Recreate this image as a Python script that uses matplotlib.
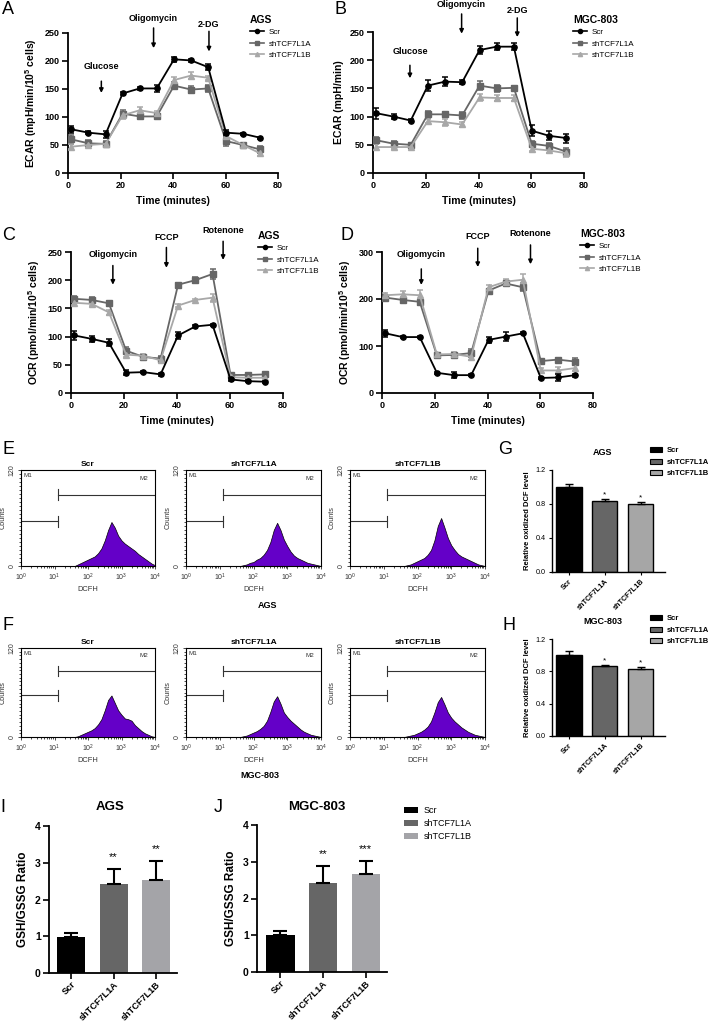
import matplotlib.pyplot as plt
import numpy as np
from matplotlib.lines import Line2D
from matplotlib.patches import Patch
from matplotlib.ticker import MultipleLocator, LogLocator, NullFormatter

plt.rcParams['font.family'] = ['Liberation Sans', 'DejaVu Sans']
plt.rcParams['mathtext.fontset'] = 'custom'
plt.rcParams['mathtext.rm'] = 'Liberation Sans'
plt.rcParams['mathtext.bf'] = 'Liberation Sans:bold'

W, H = 713, 1027

groups = ['Scr', 'shTCF7L1A', 'shTCF7L1B']
line_colors = ['black', '#666666', '#a8a8a8']
markers = ['o', 's', '^']

# Seahorse measurement times (minutes)
t_min = [1.3, 7.8, 14.3, 20.8, 27.3, 33.8, 40.4, 46.9, 53.4, 60.2, 66.7, 73.2]

# A: ECAR, AGS
ecar_ags_scr = [78, 72, 69, 142, 151, 151, 203, 201, 189, 72, 70, 63]
ecar_ags_scr_err = [6, 3, 6, 3, 2, 6, 5, 2, 5, 5, 2, 2]
ecar_ags_a = [60, 53, 52, 106, 101, 101, 156, 149, 151, 57, 50, 42]
ecar_ags_a_err = [8, 6, 6, 6, 4, 4, 6, 6, 6, 8, 3, 6]
ecar_ags_b = [47, 50, 52, 103, 112, 107, 166, 174, 170, 66, 50, 35]
ecar_ags_b_err = [5, 4, 4, 6, 6, 4, 6, 6, 4, 4, 3, 4]

# B: ECAR, MGC-803
ecar_mgc_scr = [106, 100, 93, 155, 162, 161, 218, 224, 224, 75, 66, 62]
ecar_mgc_scr_err = [10, 5, 2, 10, 8, 4, 7, 6, 6, 10, 8, 8]
ecar_mgc_a = [58, 52, 50, 104, 104, 102, 155, 150, 151, 52, 48, 38]
ecar_mgc_a_err = [6, 4, 3, 6, 5, 6, 8, 6, 4, 5, 5, 6]
ecar_mgc_b = [46, 46, 46, 92, 90, 86, 134, 133, 133, 43, 40, 35]
ecar_mgc_b_err = [6, 4, 3, 4, 6, 5, 6, 6, 6, 4, 4, 6]

# C: OCR, AGS
ocr_ags_scr = [102, 96, 89, 36, 37, 33, 102, 118, 121, 24, 21, 20]
ocr_ags_scr_err = [8, 5, 6, 4, 2, 2, 7, 2, 2, 2, 2, 2]
ocr_ags_a = [167, 165, 159, 75, 64, 61, 192, 200, 211, 32, 32, 33]
ocr_ags_a_err = [5, 5, 4, 6, 3, 4, 3, 5, 8, 3, 3, 3]
ocr_ags_b = [160, 158, 143, 68, 66, 58, 155, 165, 169, 28, 27, 27]
ocr_ags_b_err = [4, 4, 4, 5, 4, 4, 3, 2, 7, 2, 2, 2]

# D: OCR, MGC-803
ocr_mgc_scr = [127, 119, 119, 43, 38, 38, 113, 120, 127, 32, 33, 38]
ocr_mgc_scr_err = [7, 2, 2, 2, 6, 2, 7, 9, 2, 3, 8, 3]
ocr_mgc_a = [203, 198, 194, 80, 81, 85, 218, 233, 225, 68, 71, 67]
ocr_mgc_a_err = [5, 5, 7, 4, 4, 8, 4, 6, 9, 4, 4, 8]
ocr_mgc_b = [208, 210, 208, 82, 83, 77, 225, 237, 241, 48, 48, 53]
ocr_mgc_b_err = [5, 6, 12, 4, 4, 6, 4, 6, 13, 6, 8, 6]

# injections: (label, time, arrow top, arrow bottom, label y)
inj_a = [('Glucose', 12.7, 164, 143, 190), ('Oligomycin', 32.6, 259, 223, 276), ('2-DG', 53.7, 253, 217, 265)]
inj_b = [('Glucose', 14.0, 191, 168, 216), ('Oligomycin', 33.6, 282, 247, 299), ('2-DG', 54.7, 275, 241, 288)]
inj_c = [('Oligomycin', 15.8, 226, 192, 245), ('FCCP', 36.0, 258, 222, 276), ('Rotenone', 57.4, 269, 236, 289)]
inj_d = [('Oligomycin', 14.9, 264, 230, 294), ('FCCP', 36.3, 308, 268, 332), ('Rotenone', 56.3, 315, 274, 340)]

# flow cytometry histograms (log10 DCFH bin centres, counts)
hist_dec = [1.6, 1.7, 1.8, 1.9, 2.0, 2.1, 2.2, 2.3, 2.4, 2.5, 2.6, 2.7, 2.8,
            2.9, 3.0, 3.1, 3.2, 3.3, 3.4, 3.5, 3.6, 3.7, 3.8, 3.9, 4.0]
hist_e_scr = [0, 2, 4, 6, 8, 10, 12, 16, 22, 32, 45, 55, 48, 38, 32, 28, 25, 22, 19, 15, 12, 9, 6, 3, 1]
hist_e_a = [0, 1, 2, 4, 5, 8, 10, 14, 20, 30, 45, 54, 45, 33, 25, 18, 13, 10, 8, 6, 4, 3, 2, 1, 0]
hist_e_b = [0, 1, 2, 4, 6, 8, 10, 14, 20, 32, 50, 60, 48, 35, 26, 20, 15, 12, 10, 8, 6, 4, 2, 1, 0]
hist_f_scr = [0, 1, 3, 5, 7, 9, 12, 17, 24, 36, 50, 56, 46, 36, 30, 25, 24, 22, 16, 12, 8, 5, 3, 1, 0]
hist_f_a = [0, 1, 2, 4, 6, 8, 11, 15, 22, 34, 48, 55, 45, 33, 27, 22, 18, 14, 10, 7, 5, 3, 2, 1, 0]
hist_f_b = [0, 1, 2, 3, 5, 7, 10, 14, 21, 33, 47, 54, 44, 33, 26, 21, 17, 13, 10, 7, 5, 3, 2, 1, 0]

# G/H: relative oxidized DCF level
dcf_ags = [1.0, 0.84, 0.80]
dcf_ags_err = [0.03, 0.02, 0.02]
dcf_mgc = [1.0, 0.86, 0.83]
dcf_mgc_err = [0.05, 0.02, 0.02]
dcf_stars = ['', '*', '*']

# I/J: GSH/GSSG ratio
gsh_ags = [0.98, 2.42, 2.54]
gsh_ags_err = [0.12, 0.40, 0.50]
gsh_ags_stars = ['', '**', '**']
gsh_mgc = [1.0, 2.42, 2.68]
gsh_mgc_err = [0.12, 0.47, 0.33]
gsh_mgc_stars = ['', '**', '***']


def box(l, t, r, b):
    return [l / W, 1 - b / H, (r - l) / W, (b - t) / H]


def fx(x):
    return x / W


def fy(y):
    return 1 - y / H


fig = plt.figure(figsize=(W / 100, H / 100), dpi=100)


def bold_ticks(ax):
    for lab in ax.get_xticklabels() + ax.get_yticklabels():
        lab.set_fontweight('bold')


def seahorse(ax, series, ymax, ystep, ylabel, cell, inj, leg_xy):
    for (vals, errs), c, m in zip(series, line_colors, markers):
        ax.errorbar(t_min, vals, yerr=errs, color=c, marker=m, ms=3.8, lw=1.3,
                    capsize=2, elinewidth=1.1, capthick=1.1,
                    zorder=4 if c == 'black' else 3)
    ax.set_xlim(0, 80)
    ax.set_ylim(0, ymax)
    ax.set_xticks([0, 20, 40, 60, 80])
    ax.set_yticks(np.arange(0, ymax + 1, ystep))
    for s in ['top', 'right']:
        ax.spines[s].set_visible(False)
    for s in ['left', 'bottom']:
        ax.spines[s].set_linewidth(1.3)
    ax.tick_params(direction='out', length=4, width=1.2, labelsize=6.5, pad=2)
    bold_ticks(ax)
    ax.set_xlabel('Time (minutes)', fontsize=7.5, fontweight='bold', labelpad=4)
    ax.set_ylabel(ylabel, fontsize=7.5, fontweight='bold', labelpad=4)
    for lab, x, y0, y1, ylab in inj:
        ax.annotate('', xy=(x, y1), xytext=(x, y0),
                    arrowprops=dict(arrowstyle='-|>', lw=1.1, color='black',
                                    mutation_scale=6, shrinkA=0, shrinkB=0),
                    annotation_clip=False)
        ax.text(x, ylab, lab, ha='center', va='center', fontsize=6.5,
                fontweight='bold', clip_on=False)
    handles = [Line2D([], [], color=c, marker=m, ms=3, lw=1.2)
               for c, m in zip(line_colors, markers)]
    ax.legend(handles, groups, title=cell, loc='upper left',
              bbox_to_anchor=(fx(leg_xy[0]), fy(leg_xy[1])),
              bbox_transform=fig.transFigure, frameon=False, fontsize=5.8,
              title_fontproperties={'weight': 'bold', 'size': 7.5},
              alignment='left', handlelength=1.7, labelspacing=0.45,
              borderaxespad=0, borderpad=0, handletextpad=0.6)


ecar_label = r'ECAR (mpH/min/10$^{\mathbf{5}}$ cells)'
ocr_label = r'OCR (pmol/min/10$^{\mathbf{5}}$ cells)'

axA = fig.add_axes(box(68, 33, 278, 173))
seahorse(axA, [(ecar_ags_scr, ecar_ags_scr_err), (ecar_ags_a, ecar_ags_a_err),
               (ecar_ags_b, ecar_ags_b_err)], 250, 50,
         ecar_label, 'AGS', inj_a, (250, 15))
axB = fig.add_axes(box(373, 32, 584, 173))
seahorse(axB, [(ecar_mgc_scr, ecar_mgc_scr_err), (ecar_mgc_a, ecar_mgc_a_err),
               (ecar_mgc_b, ecar_mgc_b_err)], 250, 50,
         'ECAR (mpH/min)', 'MGC-803', inj_b, (573, 15))
axC = fig.add_axes(box(71, 252, 283, 393))
seahorse(axC, [(ocr_ags_scr, ocr_ags_scr_err), (ocr_ags_a, ocr_ags_a_err),
               (ocr_ags_b, ocr_ags_b_err)], 250, 50,
         ocr_label, 'AGS', inj_c, (258, 231))
axD = fig.add_axes(box(382, 252, 593, 393))
seahorse(axD, [(ocr_mgc_scr, ocr_mgc_scr_err), (ocr_mgc_a, ocr_mgc_a_err),
               (ocr_mgc_b, ocr_mgc_b_err)], 300, 100,
         ocr_label, 'MGC-803', inj_d, (580, 229))


def flow(ax, counts, title):
    xs = [10 ** d for d in hist_dec]
    ax.fill_between(xs, counts, facecolor='#6400c8',
                    edgecolor='black', lw=0.5)
    ax.set_xscale('log')
    ax.set_xlim(1, 1e4)
    ax.set_ylim(0, 120)
    ax.set_yticks([0, 120])
    ax.set_yticklabels(['0', '120'], rotation=90, va='center')
    ax.yaxis.set_minor_locator(MultipleLocator(5))
    ax.xaxis.set_major_locator(LogLocator(base=10, numticks=10))
    ax.xaxis.set_minor_locator(LogLocator(base=10, subs=np.arange(2, 10), numticks=10))
    ax.xaxis.set_minor_formatter(NullFormatter())
    ax.tick_params(which='both', labelsize=5, width=0.5, pad=1.5, labelcolor='#333333')
    ax.tick_params(which='major', length=2.5)
    ax.tick_params(which='minor', length=1.5)
    for s in ax.spines.values():
        s.set_linewidth(0.8)
    ax.set_xlabel('DCFH', fontsize=5.4, labelpad=2, color='#333333')
    ax.set_ylabel('Counts', fontsize=5.2, labelpad=1, color='#333333')
    ax.set_title(title, fontsize=6, fontweight='bold', pad=3)
    gx = 10 ** 1.1
    ax.plot([1, gx], [56, 56], color='#333333', lw=0.8)
    ax.plot([gx, gx], [49, 63], color='#333333', lw=0.8)
    ax.plot([gx, 1e4], [89, 89], color='#333333', lw=0.8)
    ax.plot([gx, gx], [82, 96], color='#333333', lw=0.8)
    ax.text(1.15, 113, 'M1', fontsize=4.5, va='center', color='#333333')
    ax.text(6500, 110, 'M2', fontsize=4.5, va='center', ha='right', color='#333333')


hist_cols = [(21, 155), (186, 321), (350, 485)]
for (l, r), counts, title in zip(hist_cols, [hist_e_scr, hist_e_a, hist_e_b], groups):
    flow(fig.add_axes(box(l, 470, r, 566)), counts, title)
for (l, r), counts, title in zip(hist_cols, [hist_f_scr, hist_f_a, hist_f_b], groups):
    flow(fig.add_axes(box(l, 648, r, 737)), counts, title)
fig.text(fx(268), fy(605), 'AGS', fontsize=6.5, fontweight='bold', ha='center', va='center')
fig.text(fx(260), fy(776), 'MGC-803', fontsize=6.5, fontweight='bold', ha='center', va='center')


def dcf(ax, vals, errs, cell, title_y):
    x = np.arange(3)
    ax.bar(x, vals, width=0.7, color=['black', '#666666', '#a6a6a6'],
           edgecolor='black', lw=1)
    ax.errorbar(x, vals, yerr=[[0, 0, 0], errs], fmt='none', ecolor='black',
                capsize=3, elinewidth=1, capthick=1)
    for xi, v, e, s in zip(x, vals, errs, dcf_stars):
        ax.text(xi, v + e + 0.05, s, ha='center', va='center', fontsize=6)
    ax.set_xlim(-0.47, 2.67)
    ax.set_ylim(0, 1.2)
    ax.set_yticks([0, 0.4, 0.8, 1.2])
    ax.set_yticklabels(['0.0', '0.4', '0.8', '1.2'])
    ax.set_xticks(x)
    ax.set_xticklabels(groups, rotation=45, ha='right', rotation_mode='anchor')
    for s in ['top', 'right']:
        ax.spines[s].set_visible(False)
    for s in ['left', 'bottom']:
        ax.spines[s].set_linewidth(1)
    ax.tick_params(direction='out', length=2.5, width=0.8, labelsize=5.2, pad=2)
    for lab in ax.get_xticklabels():
        lab.set_fontweight('bold')
    ax.set_ylabel('Relative oxidized DCF level', fontsize=5.5, fontweight='bold', labelpad=3)
    fig.text(fx(603), fy(title_y), cell, fontsize=6.5, fontweight='bold', ha='center', va='center')
    handles = [Patch(facecolor=c, edgecolor='black', lw=0.8)
               for c in ['black', '#666666', '#a6a6a6']]
    ax.legend(handles, groups, loc='upper left',
              bbox_to_anchor=(fx(650), fy(title_y - 6)),
              bbox_transform=fig.transFigure, frameon=False,
              prop={'weight': 'bold', 'size': 5.5}, handlelength=1.6,
              handleheight=0.7, labelspacing=0.55, borderaxespad=0,
              borderpad=0, handletextpad=0.6)


dcf(fig.add_axes(box(552, 470, 665, 572)), dcf_ags, dcf_ags_err, 'AGS', 453)
dcf(fig.add_axes(box(552, 639, 665, 736)), dcf_mgc, dcf_mgc_err, 'MGC-803', 621)


def gsh(ax, vals, errs, stars):
    x = np.arange(3)
    ax.bar(x, vals, width=0.66, color=['black', '#666666', '#a4a4a8'])
    ax.errorbar(x, vals, yerr=[[0, 0, 0], errs], fmt='none', ecolor='black',
                capsize=5, elinewidth=1.5, capthick=1.5)
    for xi, v, e, s in zip(x, vals, errs, stars):
        ax.text(xi, v + e + 0.33, s, ha='center', va='center', fontsize=8)
    ax.set_ylim(0, 4)
    ax.set_yticks([0, 1, 2, 3, 4])
    ax.set_xticks(x)
    ax.set_xticklabels(groups, rotation=45, ha='right', rotation_mode='anchor')
    for s in ['top', 'right']:
        ax.spines[s].set_visible(False)
    for s in ['left', 'bottom']:
        ax.spines[s].set_linewidth(1.3)
    ax.tick_params(direction='out', length=4, width=1.2, labelsize=7.5, pad=2)
    ax.tick_params(axis='x', labelsize=6.6, pad=1)
    bold_ticks(ax)
    ax.set_ylabel('GSH/GSSG Ratio', fontsize=8.5, fontweight='bold', labelpad=4)


axI = fig.add_axes(box(49, 826, 177, 973))
gsh(axI, gsh_ags, gsh_ags_err, gsh_ags_stars)
axI.set_xlim(-0.52, 2.49)
axJ = fig.add_axes(box(257, 825, 387, 972))
gsh(axJ, gsh_mgc, gsh_mgc_err, gsh_mgc_stars)
axJ.set_xlim(-0.55, 2.5)
fig.text(fx(110), fy(807), 'AGS', fontsize=9.5, fontweight='bold', ha='center', va='center')
fig.text(fx(317), fy(807), 'MGC-803', fontsize=9.5, fontweight='bold', ha='center', va='center')
axJ.legend([Patch(facecolor=c) for c in ['black', '#666666', '#a4a4a8']], groups,
           loc='upper left', bbox_to_anchor=(fx(404), fy(806)),
           bbox_transform=fig.transFigure, frameon=False, fontsize=6.5,
           handlelength=1.5, handleheight=0.7, labelspacing=0.45,
           borderaxespad=0, borderpad=0, handletextpad=0.7)

# panel letters
for lab, x, y in [('A', 2, 9), ('B', 334, 9), ('C', 2, 236), ('D', 341, 236),
                  ('E', 2, 450), ('F', 2, 626), ('G', 498, 450), ('H', 502, 625),
                  ('I', 0, 807), ('J', 214, 807)]:
    fig.text(fx(x), fy(y), lab, fontsize=13, ha='left', va='center')

fig.savefig('out.png', dpi=100)
